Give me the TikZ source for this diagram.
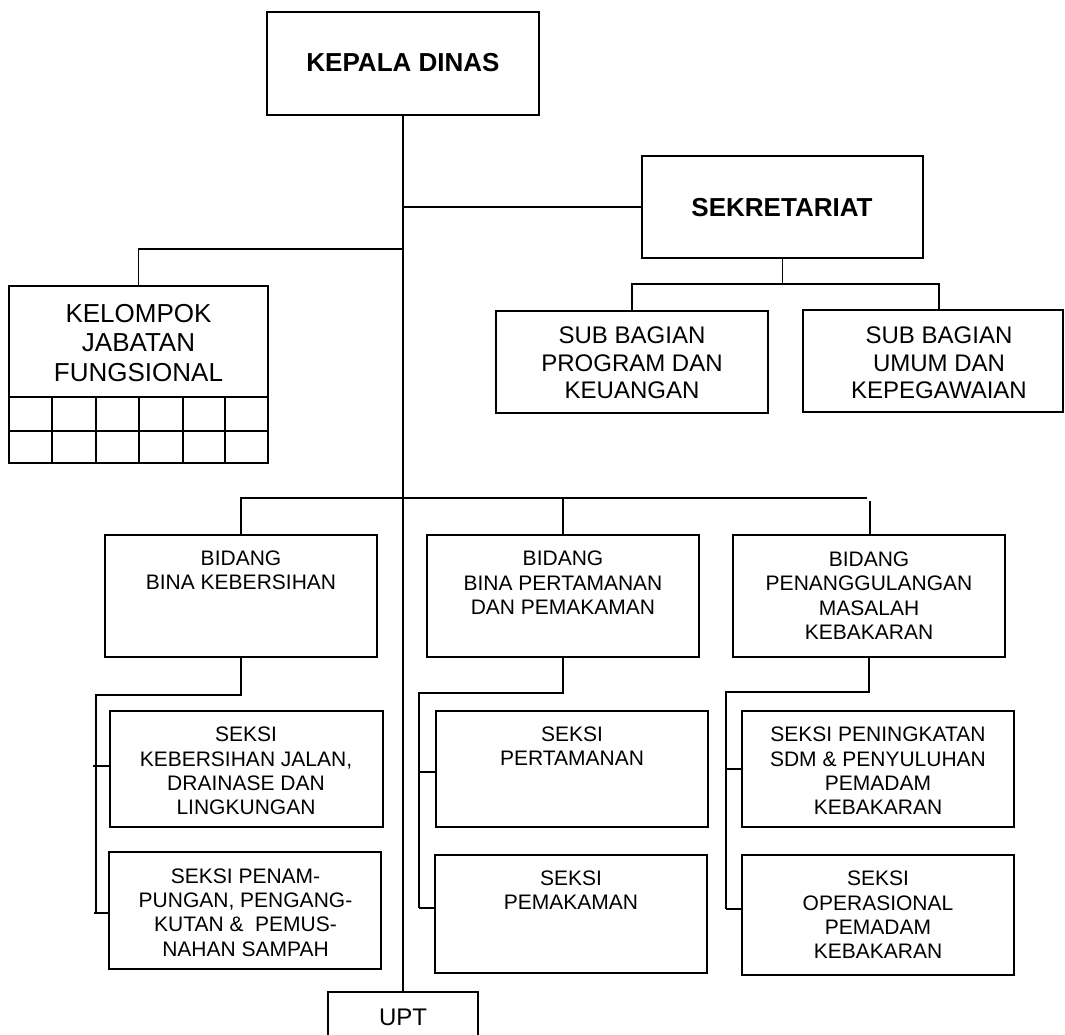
\documentclass[tikz,border=0pt]{standalone}
\usepackage{fontspec}
\setmainfont{Liberation Sans}
\begin{document}
\begin{tikzpicture}[x=1pt,y=-1pt,line width=1.5pt,
  box/.style={draw,rectangle,inner sep=0pt,line width=1.5pt},
  tbold/.style={font=\fontsize{26}{30}\selectfont\bfseries,align=center,inner sep=0pt},
  tbig/.style={font=\fontsize{26}{29.5}\selectfont,align=center,inner sep=0pt},
  tmid/.style={font=\fontsize{24}{27.5}\selectfont,align=center,inner sep=0pt},
  tsmall/.style={font=\fontsize{21}{24.4}\selectfont,align=center,inner sep=0pt}]
\useasboundingbox (0,0) rectangle (1065,1034);
\clip (0,0) rectangle (1065,1034);

% boxes
\node[box,minimum width=272pt,minimum height=103pt] (kd) at (403,63.5) {};
\node[box,minimum width=281pt,minimum height=102pt] (sek) at (782.5,207) {};
\node[box,minimum width=272pt,minimum height=102pt] (prg) at (632,362) {};
\node[box,minimum width=260pt,minimum height=102pt] (umb) at (933,361) {};
\node[box,minimum width=259pt,minimum height=177pt] (kjf) at (138.5,374.5) {};
\node[box,minimum width=272pt,minimum height=122pt] (bk) at (241,596) {};
\node[box,minimum width=272pt,minimum height=122pt] (bp) at (563,596) {};
\node[box,minimum width=272pt,minimum height=122pt] (bpk) at (869,596) {};
\node[box,minimum width=273pt,minimum height=116pt] (s1) at (246.5,769) {};
\node[box,minimum width=272pt,minimum height=117pt] (s2) at (245,910.5) {};
\node[box,minimum width=272pt,minimum height=116pt] (sp) at (572,769) {};
\node[box,minimum width=272pt,minimum height=118pt] (spm) at (571,914) {};
\node[box,minimum width=272pt,minimum height=116pt] (spk) at (878,769) {};
\node[box,minimum width=272pt,minimum height=120pt] (sop) at (878,915) {};
\node[box,minimum width=150pt,minimum height=68pt] (upt) at (403,1026) {};

% texts
\node[tbold] (kdt) at (403,63) {KEPALA DINAS};
\node[tbold] (sekt) at (782,208) {SEKRETARIAT};
\node[tmid] (prgt) at (632,363) {SUB BAGIAN\\PROGRAM DAN\\KEUANGAN};
\node[tmid] (umbt) at (939,363) {SUB BAGIAN\\UMUM DAN\\KEPEGAWAIAN};
\node[tbig] (kjft) at (138.5,343) {KELOMPOK\\JABATAN\\FUNGSIONAL};
\node[tsmall] (bkt) at (241,570.5) {BIDANG\\BINA KEBERSIHAN};
\node[tsmall] (bpt) at (563,583) {BIDANG\\BINA PERTAMANAN\\DAN PEMAKAMAN};
\node[tsmall] (bpkt) at (869,595.5) {BIDANG\\PENANGGULANGAN\\MASALAH\\KEBAKARAN};
\node[tsmall] (s1t) at (246,771) {SEKSI\\KEBERSIHAN JALAN,\\DRAINASE DAN\\LINGKUNGAN};
\node[tsmall] (s2t) at (245.5,912.5) {SEKSI PENAM-\\PUNGAN, PENGANG-\\KUTAN \&~~PEMUS-\\NAHAN SAMPAH};
\node[tsmall] (spt) at (572,746) {SEKSI\\PERTAMANAN};
\node[tsmall] (spmt) at (571,890) {SEKSI\\PEMAKAMAN};
\node[tsmall] (spkt) at (878,771) {SEKSI PENINGKATAN\\SDM \& PENYULUHAN\\PEMADAM\\KEBAKARAN};
\node[tsmall] (sopt) at (878,915) {SEKSI\\OPERASIONAL\\PEMADAM\\KEBAKARAN};
\node[tmid] (uptt) at (403,1017) {UPT};

% grid of kelompok jabatan fungsional
\draw (9,397) -- (268,397);
\draw (9,431) -- (268,431);
\foreach \gx in {52,96,139,183,225} \draw (\gx,397) -- (\gx,463);

% connectors
\coordinate (jk) at (403,249);
\coordinate (sb) at (782.5,284);
\coordinate (umtop) at (939,310);
\coordinate (bh) at (403,498);
\coordinate (bhr) at (867,498);
\coordinate (bpktop) at (870,501);
\coordinate (k1) at (96,695);
\coordinate (k2) at (96,913);
\coordinate (p1) at (419,693);
\coordinate (p2) at (419,908);
\coordinate (f1) at (726,692);
\coordinate (f2) at (726,909);

\draw (kd.south) -- (upt.north);
\draw (kd.south |- sek.west) -- (sek.west);
\draw (jk) -| (kjf.north);
\draw (sek.south) -- (sb);
\draw (prg.north) -- (prg.north |- sb) -- (umtop |- sb) -- (umtop);
\draw (bk.north) -- (bk.north |- bh) -- (bhr);
\draw (bp.north |- bh) -- (bp.north);
\draw (bpktop) -- (bpktop |- bpk.north);

\draw (bk.south) -- (bk.south |- k1) -- (k1) -- (k2);
\draw (93,766) -- (s1.west |- 0,766);
\draw (94,913) -- (s2.west |- k2);

\draw (bp.south) -- (bp.south |- p1) -- (p1) -- (p2);
\draw (419,772) -- (sp.west |- 0,772);
\draw (p2) -- (spm.west |- p2);

\draw (bpk.south) -- (bpk.south |- f1) -- (f1) -- (f2);
\draw (726,769) -- (spk.west);
\draw (f2) -- (sop.west |- f2);
\end{tikzpicture}
\end{document}
